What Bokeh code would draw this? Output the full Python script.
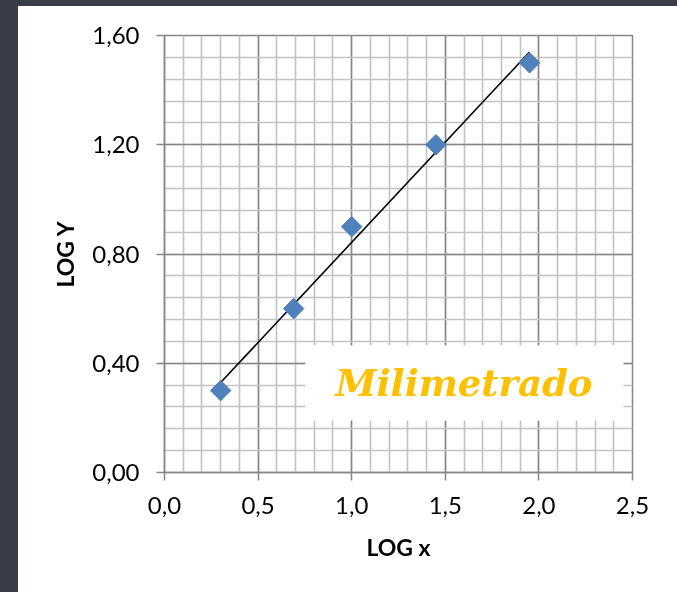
import numpy as np
from bokeh.plotting import figure
from bokeh.models import (FixedTicker, BoxAnnotation, Label, Range1d,
                          CustomJSTickFormatter, InlineStyleSheet)
from bokeh.embed import file_html
from bokeh.resources import INLINE

# ---- data ----
log_x = [0.30, 0.69, 1.00, 1.45, 1.95]
log_y = [0.30, 0.60, 0.90, 1.20, 1.50]

x_ticks = [0.0, 0.5, 1.0, 1.5, 2.0, 2.5]
x_tick_labels = ["0,0", "0,5", "1,0", "1,5", "2,0", "2,5"]
y_ticks = [0.0, 0.4, 0.8, 1.2, 1.6]
y_tick_labels = ["0,00", "0,40", "0,80", "1,20", "1,60"]
x_minor = [round(0.1 * i, 2) for i in range(26)]
y_minor = [round(0.08 * i, 2) for i in range(21)]

x_title = "LOG x"
y_title = "LOG Y"
watermark = "Milimetrado"

# linear trendline (least squares, as in the spreadsheet)
slope, intercept = np.polyfit(log_x, log_y, 1)
trend_x = [min(log_x), max(log_x)]
trend_y = [slope * v + intercept for v in trend_x]

DARK = "#868686"
LIGHT = "#c3c3c3"
FONT = "Lato"

p = figure(width=659, height=586,
           x_range=Range1d(0, 2.5), y_range=Range1d(0, 1.6),
           output_backend="svg", toolbar_location=None,
           min_border_left=146, min_border_right=63,
           min_border_top=29, min_border_bottom=126,
           background_fill_color="white", border_fill_color="white",
           outline_line_color=DARK, outline_line_width=1.5)

p.stylesheets = [InlineStyleSheet(css=(
    ":host { position: fixed !important; left: 0 !important; top: 0 !important;"
    " box-sizing: content-box !important;"
    " border-left: 18px solid #383d49; border-top: 6px solid #383d49; }"))]

def fmt(vals, labels):
    return CustomJSTickFormatter(args=dict(tick_vals=vals, tick_texts=labels), code="""
        for (let i = 0; i < tick_vals.length; i++) {
            if (Math.abs(tick_vals[i] - tick) < 1e-9) return tick_texts[i];
        }
        return '';
    """)

p.xaxis.ticker = FixedTicker(ticks=x_ticks, minor_ticks=x_minor)
p.yaxis.ticker = FixedTicker(ticks=y_ticks, minor_ticks=y_minor)
p.xaxis.formatter = fmt(x_ticks, x_tick_labels)
p.yaxis.formatter = fmt(y_ticks, y_tick_labels)

for ax in (p.xaxis, p.yaxis):
    ax.axis_line_color = DARK
    ax.axis_line_width = 1.5
    ax.major_tick_line_color = DARK
    ax.major_tick_line_width = 1.5
    ax.major_tick_out = 8
    ax.major_tick_in = 0
    ax.minor_tick_line_color = None
    ax.major_label_text_font = FONT
    ax.major_label_text_font_size = "24px"
    ax.major_label_text_color = "black"
    ax.axis_label_text_font = FONT
    ax.axis_label_text_font_size = "23px"
    ax.axis_label_text_font_style = "bold"
    ax.axis_label_text_color = "black"

p.xaxis.axis_label = x_title
p.yaxis.axis_label = y_title
p.xaxis.major_label_standoff = 16
p.yaxis.major_label_standoff = 17
p.xaxis.axis_label_standoff = 16
p.yaxis.axis_label_standoff = 10

for g in (p.xgrid, p.ygrid):
    g.grid_line_color = DARK
    g.grid_line_width = 1.5
    g.minor_grid_line_color = LIGHT
    g.minor_grid_line_width = 1.6
p.xgrid.ticker = p.xaxis.ticker
p.ygrid.ticker = p.yaxis.ticker

p.line(trend_x, trend_y, line_color="black", line_width=1.6)
p.scatter(log_x, log_y, marker="square", angle=np.pi / 4, size=14.5,
          fill_color="#4f81bd", line_color="#4f81bd")

p.add_layout(BoxAnnotation(left=0.753, right=2.452, bottom=0.19, top=0.465,
                           fill_color="white", fill_alpha=1.0, line_color=None))
p.add_layout(Label(x=1.60, y=0.326, text=watermark, text_align="center",
                   text_baseline="alphabetic", text_font="DejaVu Serif",
                   text_font_style="bold italic", text_font_size="37px",
                   text_color="#ffc000"))

open("out.html", "w").write(file_html(p, INLINE))
